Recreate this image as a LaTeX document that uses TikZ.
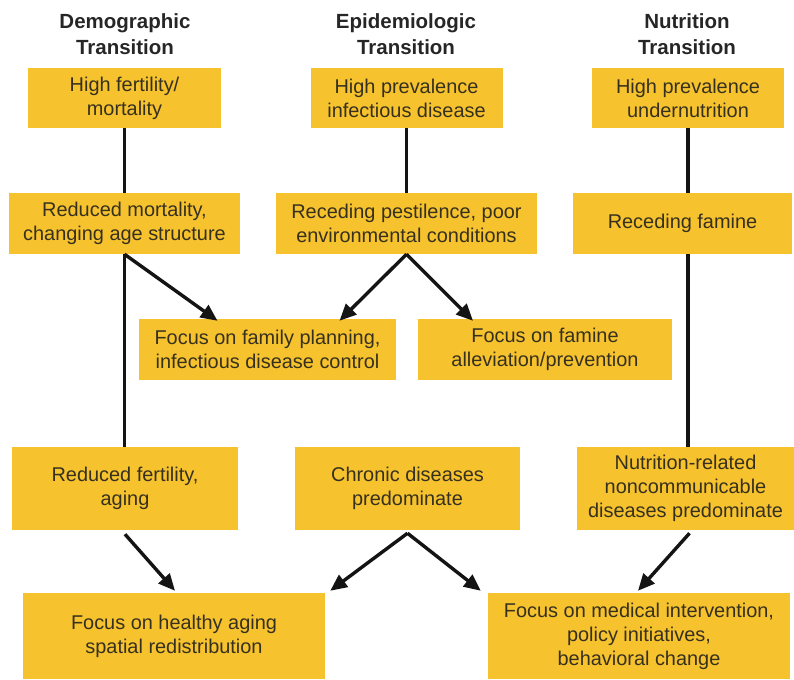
\documentclass[tikz,border=0pt]{standalone}
\usepackage{fontspec}
\setmainfont{Liberation Sans}
\usepackage{tikz}
\usepackage{xcolor}
\usetikzlibrary{arrows.meta,positioning,calc}
\definecolor{trgold}{HTML}{F6C22E}
\definecolor{trink}{HTML}{36301F}
\definecolor{trhead}{HTML}{262626}
\tikzset{
  trBox/.style={fill=trgold, inner sep=0pt, align=center, text=trink, font=\fontsize{17}{20.4}\selectfont},
  trHead/.style={align=center, text=trhead, font=\fontsize{17.5}{22}\selectfont\bfseries},
  trLine/.style={line width=2.9pt, draw=black!92},
  trArrow/.style={-{Triangle[length=5mm,width=4.4mm]}, line width=2.9pt, draw=black!92}
}
\begin{document}
\begin{tikzpicture}[x=0.03cm,y=-0.03cm]
  \useasboundingbox (0,0) rectangle (794,679);
  % column headings
  \node[trHead] (hdDemo) at (125,34) {Demographic\\Transition};
  \node[trHead] (hdEpi) at (406,34) {Epidemiologic\\Transition};
  \node[trHead] (hdNutr) at (687,34) {Nutrition\\Transition};
  % first stage
  \node[trBox, minimum width=5.79cm, minimum height=1.8cm] (demoA) at (124.5,98) {High fertility/\\mortality};
  \node[trBox, minimum width=5.76cm, minimum height=1.8cm] (epiA) at (406.5,98) {High prevalence\\infectious disease};
  \node[trBox, minimum width=5.76cm, minimum height=1.8cm] (nutrA) at (688,98) {High prevalence\\undernutrition};
  % second stage
  \node[trBox, minimum width=6.93cm, minimum height=1.83cm] (demoB) at (124.5,223.5) {Reduced mortality,\\changing age structure};
  \node[trBox, minimum width=7.8cm, minimum height=1.83cm] (epiB) at (406.5,223.5) {Receding pestilence, poor\\environmental conditions};
  \node[trBox, minimum width=6.57cm, minimum height=1.83cm] (nutrB) at (682.5,223.5) {Receding famine};
  % policy focus, early
  \node[trBox, minimum width=7.71cm, minimum height=1.83cm] (focPlan) at (267.5,349.5) {Focus on family planning,\\infectious disease control};
  \node[trBox, minimum width=7.62cm, minimum height=1.83cm] (focFam) at (545,349.5) {Focus on famine\\alleviation/prevention};
  % third stage
  \node[trBox, minimum width=6.78cm, minimum height=2.49cm] (demoC) at (125,488.5) {Reduced fertility,\\aging};
  \node[trBox, minimum width=6.75cm, minimum height=2.49cm] (epiC) at (407.5,488.5) {Chronic diseases\\predominate};
  \node[trBox, minimum width=6.51cm, minimum height=2.49cm] (nutrC) at (685.5,488.5) {Nutrition-related\\noncommunicable\\diseases predominate};
  % policy focus, late
  \node[trBox, minimum width=9.06cm, minimum height=2.58cm] (focAge) at (174,636) {Focus on healthy aging\\spatial redistribution};
  \node[trBox, minimum width=9.06cm, minimum height=2.58cm] (focMed) at (639,636) {Focus on medical intervention,\\policy initiatives,\\behavioral change};
  % connectors
  \draw[trLine] (demoA.south) -- (demoB.north);
  \draw[trLine] (epiA.south) -- (epiB.north);
  \draw[trLine] (nutrA.south) -- (nutrA.south |- nutrB.north);
  \draw[trLine] (demoB.south) -- (demoB.south |- demoC.north);
  \draw[trLine] (nutrA.south |- nutrB.south) -- (nutrA.south |- nutrC.north);
  \draw[trArrow] (demoB.south) -- ($(focPlan.north)+(-50,2)$);
  \draw[trArrow] (epiB.south) -- ($(focPlan.north)+(72,2)$);
  \draw[trArrow] (epiB.south) -- ($(focFam.north)+(-72,2)$);
  \draw[trArrow] ($(demoC.south)+(0,4)$) -- ($(focAge.north)+(1,-2)$);
  \draw[trArrow] ($(epiC.south)+(0,3)$) -- ($(focAge.north east)+(5,-2)$);
  \draw[trArrow] ($(epiC.south)+(0,3)$) -- ($(focMed.north west)+(-7,-2)$);
  \draw[trArrow] ($(nutrC.south)+(4,3)$) -- ($(focMed.north)+(-1,-2)$);
\end{tikzpicture}
\end{document}
